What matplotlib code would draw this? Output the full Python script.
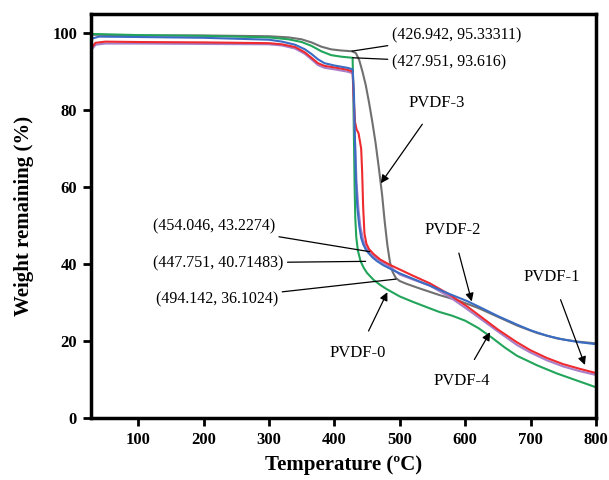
import matplotlib
matplotlib.use("Agg")
import matplotlib.pyplot as plt

plt.rcParams['font.family'] = ['Liberation Serif', 'DejaVu Serif']

# TGA curves (temperature in C, weight remaining in %)
t_pvdf0 = [28, 100, 200, 300, 330, 350, 365, 380, 395, 410, 427.9, 429, 430, 431, 432, 433.5, 436, 440, 445, 450,
           460, 470, 480, 500, 520, 546, 560, 580, 600, 620, 640, 660, 679, 710, 740, 770, 800]
w_pvdf0 = [99.8, 99.5, 99.3, 98.9, 98.4, 97.7, 96.7, 95.3, 94.3, 93.9, 93.6, 85, 72, 60, 52, 47, 43.5, 40.8, 39, 37.7,
           35.9, 34.6, 33.5, 31.6, 30.2, 28.5, 27.6, 26.6, 25.3, 23.4, 21.0, 18.4, 16.2, 13.7, 11.6, 9.8, 8.0]

t_pvdf1 = [28, 35, 50, 100, 200, 300, 320, 340, 355, 365, 375, 385, 400, 420, 428, 430, 431.5, 434, 437, 439, 441,
           442.5, 444, 446, 449, 453, 460, 470, 485, 500, 520, 546, 575, 603, 625, 650, 679, 700, 725, 750, 775, 800]
w_pvdf1 = [96, 97.5, 97.8, 97.7, 97.6, 97.4, 97.1, 96.4, 95.0, 93.6, 92.2, 91.5, 91.1, 90.5, 90.0, 82, 77, 75, 74, 72, 70,
           64, 55, 48, 45.3, 43.9, 42.6, 41.2, 39.8, 38.6, 37.0, 35.0, 32.2, 29.0, 26.2, 23.0, 19.7, 17.6, 15.6, 14.0, 12.8, 11.7]

t_pvdf2 = [28, 40, 100, 200, 300, 320, 340, 355, 365, 375, 385, 400, 420, 428, 430, 431.5, 433, 435, 438, 441, 444,
           448, 452, 458, 465, 475, 490, 500, 520, 546, 575, 603, 625, 650, 679, 700, 725, 750, 775, 800]
w_pvdf2 = [98.5, 99.1, 99.0, 98.8, 98.3, 97.8, 97.0, 95.8, 94.6, 93.2, 92.2, 91.6, 91.0, 90.6, 84, 72, 62, 55, 50, 46.8, 45.2,
           43.8, 42.9, 41.8, 40.8, 39.7, 38.4, 37.6, 36.2, 34.4, 32.3, 30.4, 28.6, 26.5, 24.3, 22.8, 21.4, 20.4, 19.7, 19.2]

t_pvdf3 = [28, 100, 200, 300, 330, 350, 365, 380, 395, 410, 427, 433, 438, 443, 448, 453, 458, 463, 468, 473, 477,
           481, 485, 489, 494, 500, 510, 530, 560, 590, 620, 650, 680, 710, 740, 770, 800]
w_pvdf3 = [99.6, 99.4, 99.4, 99.2, 98.9, 98.4, 97.6, 96.5, 95.8, 95.5, 95.3, 94.8, 93, 90, 86.5, 82, 77, 71.5, 65, 58, 51,
           45, 40.5, 38, 36.4, 35.6, 34.9, 33.7, 32.0, 30.5, 28.6, 26.3, 24.0, 22.1, 20.7, 19.9, 19.4]

t_pvdf4 = [28, 35, 50, 100, 200, 300, 320, 340, 355, 365, 375, 385, 400, 420, 428, 430, 432, 434, 437, 440, 444,
           448, 452, 460, 470, 485, 500, 520, 546, 575, 603, 625, 650, 679, 700, 725, 750, 775, 800]
w_pvdf4 = [95.5, 97, 97.3, 97.3, 97.2, 97.1, 96.8, 96.0, 94.6, 93.2, 91.7, 91.0, 90.6, 90.0, 89.6, 80, 70, 61, 54, 49.5, 46.3,
           44.5, 43.3, 42, 40.8, 39.3, 37.3, 36.0, 34.4, 31.6, 28.3, 25.6, 22.5, 19.0, 17.0, 15.0, 13.4, 12.2, 11.2]

# labelled points
marked_pts = [(426.942, 95.33311), (427.951, 93.616), (454.046, 43.2274),
              (447.751, 40.71483), (494.142, 36.1024)]
marked_txt = [(488, 99.5), (488, 92.5), (309, 49.9), (322, 40.3), (314, 30.9)]

xticks = [100, 200, 300, 400, 500, 600, 700, 800]
yticks = [0, 20, 40, 60, 80, 100]

fig = plt.figure(figsize=(6.09, 4.8), dpi=100)
ax = fig.add_axes([0.1494, 0.129, 0.8293, 0.842])

ax.plot(t_pvdf3, w_pvdf3, color='#707070', lw=1.5)
ax.plot(t_pvdf0, w_pvdf0, color='#22a55a', lw=1.5)
ax.plot(t_pvdf4, w_pvdf4, color='#a77fc9', lw=1.5)
ax.plot(t_pvdf1, w_pvdf1, color='#ee2a2f', lw=1.5)
ax.plot(t_pvdf2, w_pvdf2, color='#3b6cc4', lw=1.5)

ax.set_xlim(28, 800)
ax.set_ylim(0, 105)
ax.set_xticks(xticks)
ax.set_yticks(yticks)
ax.tick_params(direction='out', length=6, width=2, labelsize=12, pad=4)
for lab in ax.get_xticklabels() + ax.get_yticklabels():
    lab.set_fontweight('bold')
for sp in ax.spines.values():
    sp.set_linewidth(2.5)

ax.set_xlabel('Temperature (ºC)', fontsize=15, fontweight='bold', labelpad=5)
ax.set_ylabel('Weight remaining (%)', fontsize=15, fontweight='bold', labelpad=13)

# coordinate callouts
for i, (p, t) in enumerate(zip(marked_pts, marked_txt)):
    txt = '(%s, %s)' % (('%.3f' % p[0]), str(p[1]))
    ha = 'left' if i < 2 else 'right'
    ax.annotate(txt, xy=p, xytext=t, fontsize=11.5, ha=ha, va='center',
                arrowprops=dict(arrowstyle='-', color='black', lw=0.9,
                                shrinkA=1, shrinkB=0))

# sample labels with arrows
labels = ['PVDF-3', 'PVDF-2', 'PVDF-1', 'PVDF-4', 'PVDF-0']
lab_xy = [(471, 61), (610, 30.3), (783, 13.8), (638, 22.3), (481, 32.7)]
lab_txt = [(557, 81.8), (581, 48.8), (733, 36.6), (595, 9.6), (436, 16.9)]
for name, xy, xt in zip(labels, lab_xy, lab_txt):
    ax.annotate(name, xy=xy, xytext=xt, fontsize=12, ha='center', va='center',
                arrowprops=dict(arrowstyle='-|>', color='black', lw=0.9,
                                mutation_scale=12, shrinkA=9, shrinkB=0))

fig.savefig('out.png', dpi=100)
